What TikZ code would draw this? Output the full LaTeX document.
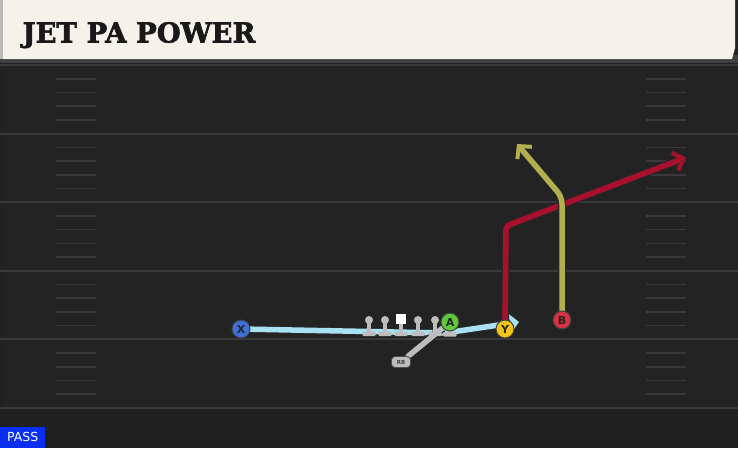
\documentclass[tikz,border=0pt]{standalone}
\usepackage{fontspec}
\setmainfont{DejaVu Sans}
\newfontfamily\titlefont{DejaVu Serif}[BoldFeatures={FakeBold=2.2}]
\usetikzlibrary{arrows.meta}
\definecolor{fieldbg}{HTML}{232323}
\definecolor{yardc}{HTML}{3A3A3A}
\definecolor{hashc}{HTML}{3A3A3A}
\definecolor{cream}{HTML}{F5F2EB}
\definecolor{motionc}{HTML}{A8E2F2}
\definecolor{redroute}{HTML}{A8102E}
\definecolor{oliveroute}{HTML}{B3AE4E}
\definecolor{xblue}{HTML}{3F6FD8}
\definecolor{agreen}{HTML}{5CC83A}
\definecolor{yyellow}{HTML}{F2C417}
\definecolor{bred}{HTML}{D8313F}
\definecolor{olgray}{HTML}{BDBDBD}
\definecolor{passblue}{HTML}{0A2FF0}
\pgfdeclarelayer{bgl}
\pgfdeclarelayer{routes}
\pgfsetlayers{bgl,routes,main}
\tikzset{
  player/.style={circle, draw=black!75, line width=1pt, minimum size=18pt, inner sep=0pt, font=\bfseries\fontsize{11}{11}\selectfont, text=black!85},
  lman/.style={circle, fill=olgray, minimum size=8pt, inner sep=0pt},
  route/.style={line width=5.5pt, line cap=round, line join=round, preaction={draw=black!85, line width=8pt}},
  tip/.style={-{Straight Barb[length=9pt, width=19pt, line width=4pt]}},
  blockstem/.style={draw=olgray, line width=4pt},
  blockbar/.style={fill=olgray, rounded corners=1pt},
}
\begin{document}
\begin{tikzpicture}[x=1pt,y=-1pt]
\useasboundingbox (0,0) rectangle (738,448);
\begin{pgfonlayer}{bgl}
\fill[fieldbg] (0,0) rectangle (738,448);
\fill[black!75] (0,55) rectangle (738,63);
\fill[black!10!fieldbg] (0,408) rectangle (738,448);
\draw[black!10!fieldbg, line width=2pt] (2,63) -- (2,448);
\foreach \k in {0,...,5} {
  \draw[yardc, line width=2pt] (0,{65+68.6*\k}) -- (738,{65+68.6*\k});
}
\foreach \k in {0,...,4} {
  \foreach \j in {1,...,4} {
    \draw[hashc, line width=1.6pt] (56,{65+68.6*\k+13.72*\j}) -- (96,{65+68.6*\k+13.72*\j});
    \draw[hashc, line width=1.6pt] (646,{65+68.6*\k+13.72*\j}) -- (686,{65+68.6*\k+13.72*\j});
  }
}
\fill[gray!55] (0,0) rectangle (3,59);
\fill[cream] (3,0) -- (735,0) -- (735,48) -- (732,59) -- (3,59) -- cycle;
\end{pgfonlayer}

\node[anchor=base west, font=\titlefont\bfseries\fontsize{27.5}{27.5}\selectfont, text=black!90] (title) at (19,42.5) {JET PA POWER};

% linemen blocking stems and bars (drawn over the motion line)
\foreach \x in {369,385,401,418,435} {
  \draw[blockstem] (\x,320) -- (\x,333);
  \fill[blockbar] ({\x-6.5},331.5) rectangle ({\x+6.5},336);
}
\draw[blockstem] (450,322) -- (450,333);
\fill[blockbar] (443.5,332) rectangle (456.5,336.5);

% linemen
\node[lman] (l1) at (369,320) {};
\node[lman] (l2) at (385,320) {};
\node[fill=white, minimum size=9.5pt, inner sep=0pt] (c) at (401,319) {};
\node[lman] (l4) at (418,320) {};
\node[lman] (l5) at (435,320) {};

% players
\node[player, fill=xblue] (X) at (241,329) {X};
\node[player, fill=agreen] (A) at (450,322) {A};
\node[player, fill=yyellow] (Y) at (505,329) {Y};
\node[player, fill=bred] (B) at (562,320) {B};
\node[draw=black!70, line width=0.8pt, fill=olgray, rounded corners=3.5pt, minimum width=19pt, minimum height=11pt, inner sep=0pt, font=\bfseries\fontsize{5.5}{5.5}\selectfont, text=black!75] (RB) at (401,362) {RB};

\coordinate (m1) at (445,333);
\coordinate (mend) at (519,322);
\coordinate (ycut) at (506,226);
\coordinate (yend) at (686,157.5);
\coordinate (bcut) at (562,197);
\coordinate (bend) at (517,144);

\node[anchor=south west, fill=passblue, minimum width=45pt, minimum height=21pt, inner sep=0pt, text=white, font=\fontsize{12.5}{12.5}\selectfont] (pass) at (0,448) {PASS};

\begin{pgfonlayer}{routes}
\draw[route, motionc, tip] (X.center) -- (m1) -- (mend);
\draw[route, redroute, tip, rounded corners=4pt] (Y.center) -- (ycut) -- (yend);
\draw[route, oliveroute, tip, rounded corners=7pt] (B.center) -- (bcut) -- (bend);
\draw[route, olgray] (RB) -- (A);
\end{pgfonlayer}
\end{tikzpicture}
\end{document}
